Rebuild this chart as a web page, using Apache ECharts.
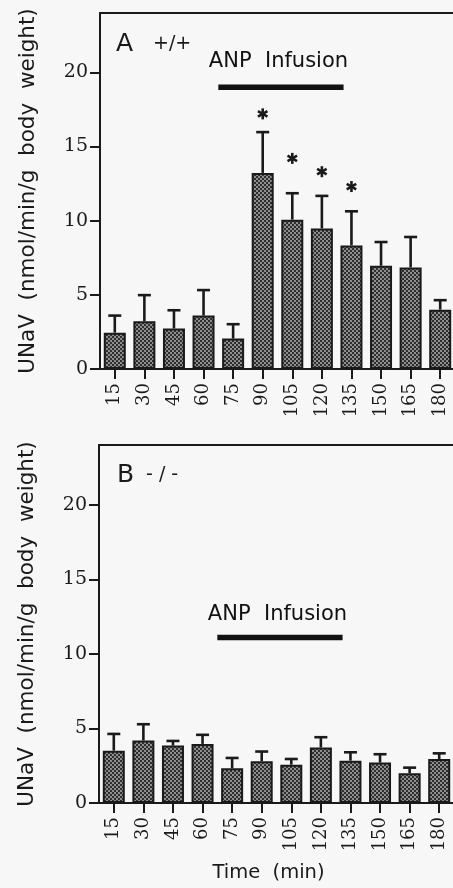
<!DOCTYPE html>
<html>
<head>
<meta charset="utf-8">
<script src="https://cdn.jsdelivr.net/npm/echarts@6/dist/echarts.min.js"></script>
<style>
  html, body { margin: 0; padding: 0; background: #f7f7f7; }
  #chart { width: 453px; height: 888px; }
</style>
</head>
<body>
<div id="chart"></div>
<script>
// Sampling times (min)
const times = ['15', '30', '45', '60', '75', '90', '105', '120', '135', '150', '165', '180'];

// Panel A (+/+): urinary sodium excretion, mean and SEM
const wtMean = [2.45, 3.22, 2.73, 3.60, 2.05, 13.22, 10.07, 9.48, 8.33, 6.96, 6.85, 4.00];
const wtSem  = [1.15, 1.76, 1.23, 1.72, 0.97, 2.75, 1.78, 2.19, 2.30, 1.60, 2.05, 0.64];

// Panel B (-/-): urinary sodium excretion, mean and SEM
const koMean = [3.51, 4.19, 3.85, 3.96, 2.33, 2.80, 2.57, 3.72, 2.84, 2.71, 1.99, 2.95];
const koSem  = [1.12, 1.09, 0.31, 0.61, 0.69, 0.65, 0.38, 0.69, 0.56, 0.56, 0.38, 0.38];

// Significance markers (panel A)
const wtStarTimes = ['90', '105', '120', '135'];
const wtStarY = [17.2, 14.2, 13.3, 12.3];

// ANP infusion period (min) and bar/label heights per panel
const infusion = [67.5, 131];
const infusionBarY = [19.0, 11.1];
const infusionTextY = [20.7, 12.65];
const infusionTextX = 98;

const yTicks = [0, 5, 10, 15, 20];
const yMax = 24;

const ink = '#1a1a1a';
const sans = 'DejaVu Sans';
const serif = 'DejaVu Serif';

// Halftone fill for the bars
function halftone() {
  const c = document.createElement('canvas');
  c.width = 4; c.height = 4;
  const g = c.getContext('2d');
  g.fillStyle = '#8e8e8e';
  g.fillRect(0, 0, 4, 4);
  g.fillStyle = '#2e2e2e';
  g.fillRect(0, 0, 2, 2);
  g.fillRect(2, 2, 2, 2);
  return c;
}
const fill = { image: halftone(), repeat: 'repeat' };

function errorBars(params, api) {
  const x = api.value(0), m = api.value(1), s = api.value(2);
  const p0 = api.coord([x, m]);
  const p1 = api.coord([x, m + s]);
  const st = { stroke: ink, lineWidth: 2.6 };
  return {
    type: 'group',
    children: [
      { type: 'line', shape: { x1: p0[0], y1: p0[1], x2: p1[0], y2: p1[1] }, style: st },
      { type: 'line', shape: { x1: p1[0] - 6.5, y1: p1[1], x2: p1[0] + 6.5, y2: p1[1] }, style: st }
    ]
  };
}

function asterisk(params, api) {
  const p = api.coord([api.value(0), api.value(1)]);
  const r = 5.5;
  const st = { stroke: ink, lineWidth: 2.6 };
  const children = [0, 60, 120].map(function (deg) {
    const a = deg * Math.PI / 180;
    const dx = Math.sin(a) * r, dy = Math.cos(a) * r;
    return { type: 'line', shape: { x1: p[0] - dx, y1: p[1] - dy, x2: p[0] + dx, y2: p[1] + dy }, style: st };
  });
  return { type: 'group', children: children };
}

function yAxis(gridIndex) {
  return {
    gridIndex: gridIndex, type: 'value', min: 0, max: yMax, interval: 5,
    axisLine: { show: true, lineStyle: { color: ink, width: 2 } },
    axisTick: { show: true, length: 10, customValues: yTicks, lineStyle: { color: ink, width: 2 } },
    axisLabel: { customValues: yTicks, fontFamily: serif, fontSize: 19, color: '#1a1a1a', margin: 12 },
    splitLine: { show: false },
    name: 'UNaV  (nmol/min/g  body  weight)',
    nameLocation: 'middle', nameRotate: 90, nameGap: 61,
    nameTextStyle: { fontFamily: sans, fontSize: 21.5, color: '#1a1a1a' }
  };
}

function catAxis(gridIndex, extra) {
  return Object.assign({
    gridIndex: gridIndex, type: 'category', data: times,
    axisLine: { show: true, lineStyle: { color: ink, width: 2 } },
    axisTick: { show: true, alignWithLabel: true, length: 10, lineStyle: { color: ink, width: 2 } },
    axisLabel: { rotate: 90, fontFamily: serif, fontSize: 18, color: '#1a1a1a', margin: 14 },
    splitLine: { show: false }
  }, extra || {});
}

// Time axis (min) along the top edge of each panel; only its line is drawn
function timeAxis(gridIndex) {
  return {
    gridIndex: gridIndex, type: 'value', min: 7.5, max: 187.5, position: 'top',
    axisLine: { show: true, onZero: false, lineStyle: { color: ink, width: 2 } },
    axisTick: { show: false }, axisLabel: { show: false }, splitLine: { show: false }
  };
}

function panelSeries(p, mean, sem) {
  return [
    {
      type: 'bar', xAxisIndex: p, yAxisIndex: p, data: mean, barWidth: 22,
      itemStyle: { color: fill, borderColor: ink, borderWidth: 2 }, silent: true
    },
    {
      type: 'custom', xAxisIndex: p, yAxisIndex: p, renderItem: errorBars,
      encode: { x: 0, y: 1 }, silent: true, z: 3,
      data: times.map(function (t, i) { return [i, mean[i], sem[i]]; })
    },
    {
      type: 'line', xAxisIndex: p + 2, yAxisIndex: p, symbol: 'none', silent: true,
      lineStyle: { color: '#111', width: 5.5 },
      data: [[infusion[0], infusionBarY[p]], [infusion[1], infusionBarY[p]]]
    },
    {
      type: 'scatter', xAxisIndex: p + 2, yAxisIndex: p, symbolSize: 0, silent: true,
      itemStyle: { opacity: 1 },
      data: [[infusionTextX, infusionTextY[p]]],
      label: { show: true, position: 'inside', formatter: 'ANP  Infusion', fontFamily: sans, fontSize: 21, color: '#111', opacity: 1 }
    }
  ];
}

const chart = echarts.init(document.getElementById('chart'), null, { renderer: 'canvas' });
chart.setOption({
  backgroundColor: '#f7f7f7',
  animation: false,
  grid: [
    { left: 100, top: 13, width: 355, height: 356, outerBoundsMode: 'none', containLabel: false },
    { left: 99, top: 445, width: 355, height: 358, outerBoundsMode: 'none', containLabel: false }
  ],
  xAxis: [
    catAxis(0),
    catAxis(1, {
      name: 'Time  (min)', nameLocation: 'middle', nameGap: 60,
      nameTextStyle: { fontFamily: sans, fontSize: 19.5, color: '#1a1a1a', padding: [0, 16, 0, 0] }
    }),
    timeAxis(0),
    timeAxis(1)
  ],
  yAxis: [yAxis(0), yAxis(1)],
  graphic: [
    { type: 'text', x: 116, y: 44, style: { text: 'A', font: '25px "DejaVu Sans"', fill: '#1a1a1a', verticalAlign: 'middle' } },
    { type: 'text', x: 153, y: 44, style: { text: '+/+', font: '19px "DejaVu Sans"', fill: '#1a1a1a', verticalAlign: 'middle' } },
    { type: 'text', x: 117, y: 475, style: { text: 'B', font: '25px "DejaVu Sans"', fill: '#1a1a1a', verticalAlign: 'middle' } },
    { type: 'text', x: 146, y: 475, style: { text: '- / -', font: '19px "DejaVu Sans"', fill: '#1a1a1a', verticalAlign: 'middle' } }
  ],
  series: panelSeries(0, wtMean, wtSem)
    .concat(panelSeries(1, koMean, koSem))
    .concat([{
      type: 'custom', xAxisIndex: 0, yAxisIndex: 0, renderItem: asterisk, silent: true,
      encode: { x: 0, y: 1 },
      data: wtStarTimes.map(function (t, i) { return [times.indexOf(t), wtStarY[i]]; })
    }])
});
</script>
</body>
</html>
